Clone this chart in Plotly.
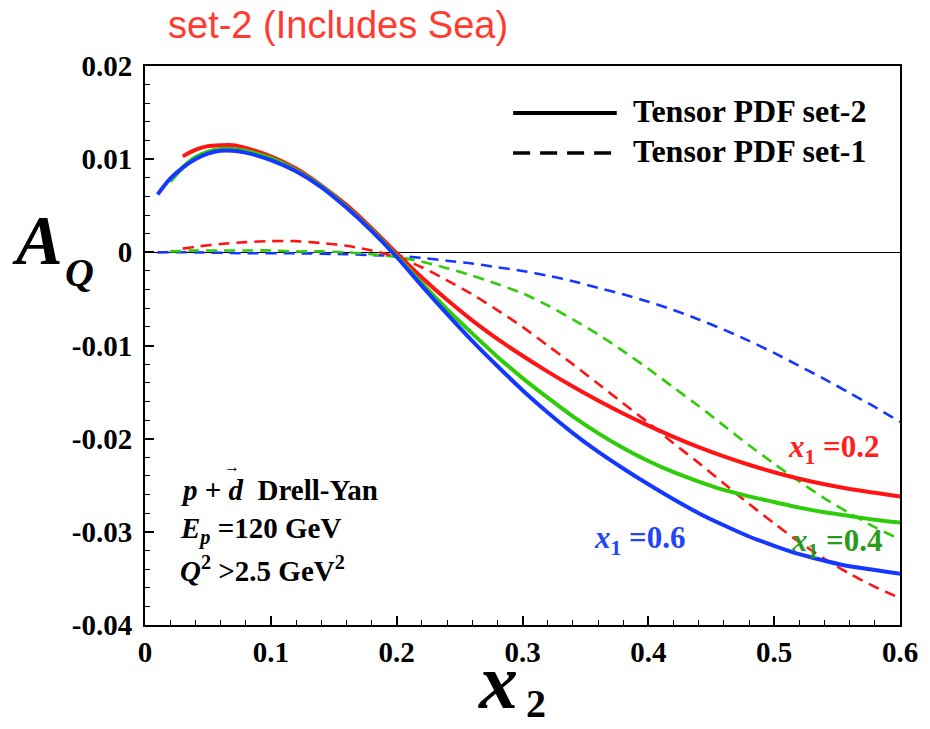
import plotly.graph_objects as go

# ---------------- data ----------------
# Tensor PDF set-2 (solid)
x_s2_02 = [0.03, 0.04, 0.05, 0.06, 0.07, 0.08, 0.10, 0.12, 0.14, 0.16, 0.18, 0.20, 0.22, 0.24, 0.26, 0.28,
           0.30, 0.32, 0.34, 0.36, 0.38, 0.40, 0.42, 0.44, 0.46, 0.48, 0.50, 0.52, 0.54, 0.56, 0.58, 0.60]
y_s2_02 = [0.0103, 0.0110, 0.0114, 0.0115, 0.0115, 0.0112, 0.0103, 0.0090, 0.0072, 0.0051, 0.0026, -0.0001,
           -0.0027, -0.0051, -0.0073, -0.0093, -0.0111, -0.0128, -0.0144, -0.0159, -0.0173, -0.0186, -0.0198,
           -0.0209, -0.0219, -0.0228, -0.0236, -0.0243, -0.0249, -0.0254, -0.0258, -0.0262]

x_s2_04 = [0.02, 0.03, 0.04, 0.05, 0.06, 0.07, 0.08, 0.10, 0.12, 0.14, 0.16, 0.18, 0.20, 0.22, 0.24, 0.26, 0.28,
           0.30, 0.32, 0.34, 0.36, 0.38, 0.40, 0.42, 0.44, 0.46, 0.48, 0.50, 0.52, 0.54, 0.56, 0.58, 0.60]
y_s2_04 = [0.0076, 0.0091, 0.0102, 0.0108, 0.0111, 0.0111, 0.0109, 0.0101, 0.0088, 0.0071, 0.0049, 0.0024,
           -0.0004, -0.0033, -0.0061, -0.0087, -0.0112, -0.0135, -0.0156, -0.0176, -0.0194, -0.0210, -0.0224,
           -0.0236, -0.0246, -0.0255, -0.0262, -0.0268, -0.0274, -0.0279, -0.0283, -0.0287, -0.0290]

x_s2_06 = [0.01, 0.02, 0.03, 0.04, 0.05, 0.06, 0.07, 0.08, 0.10, 0.12, 0.14, 0.16, 0.18, 0.20, 0.22, 0.24, 0.26, 0.28,
           0.30, 0.32, 0.34, 0.36, 0.38, 0.40, 0.42, 0.44, 0.46, 0.48, 0.50, 0.52, 0.54, 0.56, 0.58, 0.60]
y_s2_06 = [0.0062, 0.0079, 0.0091, 0.0100, 0.0106, 0.0109, 0.0109, 0.0107, 0.0099, 0.0087, 0.0070, 0.0048, 0.0023,
           -0.0005, -0.0036, -0.0066, -0.0095, -0.0122, -0.0148, -0.0172, -0.0194, -0.0214, -0.0232, -0.0249,
           -0.0265, -0.0280, -0.0293, -0.0305, -0.0315, -0.0324, -0.0331, -0.0337, -0.0341, -0.0345]

# Tensor PDF set-1 (dashed)
x_s1_02 = [0.03, 0.04, 0.06, 0.08, 0.10, 0.12, 0.14, 0.16, 0.18, 0.20, 0.22, 0.24, 0.26, 0.28, 0.30, 0.32, 0.34,
           0.36, 0.38, 0.40, 0.42, 0.44, 0.46, 0.48, 0.50, 0.52, 0.54, 0.56, 0.58, 0.60]
y_s1_02 = [0.0004, 0.0006, 0.0009, 0.0011, 0.0012, 0.0012, 0.0010, 0.0007, 0.0002, -0.0005, -0.0016, -0.0030,
           -0.0045, -0.0062, -0.0080, -0.0100, -0.0120, -0.0141, -0.0162, -0.0183, -0.0205, -0.0226, -0.0248,
           -0.0270, -0.0291, -0.0311, -0.0329, -0.0345, -0.0359, -0.0371]

x_s1_04 = [0.02, 0.04, 0.06, 0.08, 0.10, 0.12, 0.14, 0.16, 0.18, 0.20, 0.22, 0.24, 0.26, 0.28, 0.30, 0.32, 0.34,
           0.36, 0.38, 0.40, 0.42, 0.44, 0.46, 0.48, 0.50, 0.52, 0.54, 0.56, 0.58, 0.60]
y_s1_04 = [0.0001, 0.0002, 0.0002, 0.0002, 0.0002, 0.0001, 0.0001, 0.0000, -0.0002, -0.0005, -0.0010, -0.0017,
           -0.0025, -0.0034, -0.0044, -0.0057, -0.0072, -0.0088, -0.0106, -0.0125, -0.0145, -0.0165, -0.0186,
           -0.0207, -0.0227, -0.0246, -0.0264, -0.0280, -0.0295, -0.0308]

x_s1_06 = [0.01, 0.04, 0.08, 0.12, 0.16, 0.18, 0.20, 0.22, 0.24, 0.26, 0.28, 0.30, 0.32, 0.34, 0.36, 0.38, 0.40,
           0.42, 0.44, 0.46, 0.48, 0.50, 0.52, 0.54, 0.56, 0.58, 0.60]
y_s1_06 = [0.0000, 0.0000, -0.0001, -0.0001, -0.0002, -0.0003, -0.0004, -0.0006, -0.0009, -0.0012, -0.0016,
           -0.0020, -0.0025, -0.0031, -0.0038, -0.0045, -0.0053, -0.0062, -0.0072, -0.0083, -0.0095, -0.0108,
           -0.0122, -0.0136, -0.0151, -0.0166, -0.0182]

x_tickvals = [0, 0.1, 0.2, 0.3, 0.4, 0.5, 0.6]
x_ticktext = ["0", "0.1", "0.2", "0.3", "0.4", "0.5", "0.6"]
y_tickvals = [0.02, 0.01, 0, -0.01, -0.02, -0.03, -0.04]
y_ticktext = ["0.02", "0.01", "0", "-0.01", "-0.02", "-0.03", "-0.04"]

RED = "#ff1414"
GREEN = "#2fcc0a"
BLUE = "#1438ff"
SERIF = "Liberation Serif"

fig = go.Figure()

dash_style = "11px,7px"
for xs, ys, c in [(x_s1_06, y_s1_06, BLUE), (x_s1_04, y_s1_04, GREEN), (x_s1_02, y_s1_02, RED)]:
    fig.add_trace(go.Scatter(x=xs, y=ys, mode="lines",
                             line=dict(color=c, width=2.6, dash=dash_style, shape="spline", smoothing=0.8),
                             showlegend=False, hoverinfo="skip"))
for xs, ys, c in [(x_s2_02, y_s2_02, RED), (x_s2_04, y_s2_04, GREEN), (x_s2_06, y_s2_06, BLUE)]:
    fig.add_trace(go.Scatter(x=xs, y=ys, mode="lines",
                             line=dict(color=c, width=4, shape="spline", smoothing=0.8),
                             showlegend=False, hoverinfo="skip"))

L, R, T, B = 145, 20, 66, 104
W, H = 930, 729
pw, ph = W - L - R, H - T - B


def px2paper(px, py):
    return (px - L) / pw, (H - B - py) / ph


shapes = []
# legend samples
x0, y0 = px2paper(518, 113)
x1, _ = px2paper(623, 113)
shapes.append(dict(type="line", xref="paper", yref="paper", x0=x0, x1=x1, y0=y0, y1=y0,
                   line=dict(color="black", width=4)))
x0, y0 = px2paper(518, 153)
shapes.append(dict(type="line", xref="paper", yref="paper", x0=x0, x1=x1, y0=y0, y1=y0,
                   line=dict(color="black", width=3.5, dash="17px,10px")))

annotations = []


def ann(text, px, py, size, color="black", family=SERIF, xanchor="center", yanchor="middle"):
    x, y = px2paper(px, py)
    annotations.append(dict(text=text, x=x, y=y, xref="paper", yref="paper", showarrow=False,
                            xanchor=xanchor, yanchor=yanchor,
                            font=dict(size=size, color=color, family=family)))


ann("<b>Tensor PDF set-2</b>", 637, 111, 32, xanchor="left")
ann("<b>Tensor PDF set-1</b>", 637, 151, 32, xanchor="left")

ann("<b><i>x</i><sub>1</sub> =0.2</b>", 843, 449, 31, color="#ff2020")
ann("<b><i>x</i><sub>1</sub> =0.6</b>", 647, 540, 31, color="#2244ff")
ann("<b><i>x</i><sub>1</sub> =0.4</b>", 846, 543, 31, color="#2a9a1a")

ann("<b><i>p</i> + <i>d</i>  Drell-Yan</b>", 178, 490, 29, xanchor="left")
ann("<b>\u2192</b>", 233, 467, 16)
ann("<b><i>E<sub>p</sub></i> =120 GeV</b>", 178, 530, 29, xanchor="left")
ann("<b><i>Q</i><sup>2</sup> >2.5 GeV<sup>2</sup></b>", 178, 569, 29, xanchor="left")

# axis titles
ann("<b><i>A</i></b>", 36, 240, 70)
ann("<b><i>Q</i></b>", 79, 272, 40)
ann("<b><i>x</i></b>", 503, 681, 78)
ann("<b>2</b>", 541, 703, 40)

# header
ann("set-2 (Includes Sea)", 341, 25, 38, color="#ff3b30",
    family="Liberation Sans")

fig.update_layout(
    width=W, height=H,
    margin=dict(l=L, r=R, t=T, b=B),
    paper_bgcolor="white", plot_bgcolor="white",
    font=dict(family=SERIF),
    shapes=shapes, annotations=annotations,
    showlegend=False,
    xaxis=dict(range=[0, 0.6], tickvals=x_tickvals, ticktext=["<b>%s</b>" % t for t in x_ticktext],
               ticks="inside", ticklen=9, tickwidth=1.5, tickcolor="black",
               minor=dict(dtick=0.02, ticks="inside", ticklen=5, tickwidth=1.2, tickcolor="black"),
               showline=True, linecolor="black", linewidth=2, mirror=True,
               showgrid=False, zeroline=False,
               tickfont=dict(family=SERIF, size=29, color="black"),
               ticklabelstandoff=0),
    yaxis=dict(range=[-0.04, 0.02], tickvals=y_tickvals, ticktext=["<b>%s</b>" % t for t in y_ticktext],
               ticks="inside", ticklen=9, tickwidth=1.5, tickcolor="black",
               minor=dict(dtick=0.002, ticks="inside", ticklen=5, tickwidth=1.2, tickcolor="black"),
               showline=True, linecolor="black", linewidth=2, mirror=True,
               showgrid=False, zeroline=True, zerolinecolor="black", zerolinewidth=1.2,
               tickfont=dict(family=SERIF, size=29, color="black"),
               ticklabelstandoff=5),
)

fig.write_html("out.html")
